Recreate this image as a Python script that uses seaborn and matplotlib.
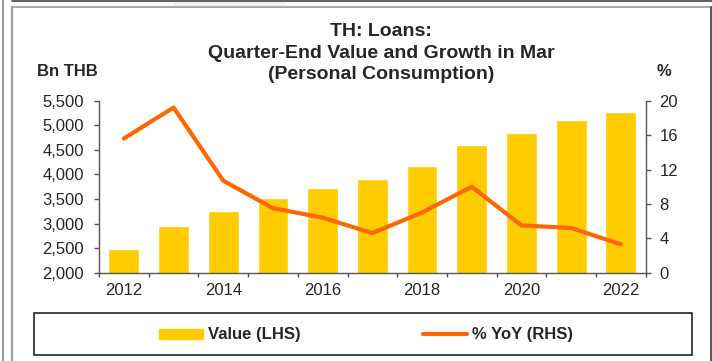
import numpy as np
import pandas as pd
import matplotlib
matplotlib.use("Agg")
import matplotlib.pyplot as plt
from matplotlib.lines import Line2D
from matplotlib.patches import Rectangle, Patch
from matplotlib.ticker import FuncFormatter, FixedLocator
import seaborn as sns

# Loan data (personal consumption), quarter-end in March
years = ["2012", "2013", "2014", "2015", "2016", "2017",
         "2018", "2019", "2020", "2021", "2022"]
value_bn_thb = [2476, 2951, 3263, 3515, 3731, 3902, 4179, 4595, 4851, 5110, 5273]
yoy_pct = [15.6, 19.2, 10.7, 7.5, 6.4, 4.6, 7.0, 10.0, 5.5, 5.2, 3.3]
year_labels_shown = ["2012", "2014", "2016", "2018", "2020", "2022"]

df = pd.DataFrame({"year": years, "value": value_bn_thb, "yoy": yoy_pct})
df["pos"] = np.arange(len(df))

sns.set_style("white")
plt.rcParams["font.family"] = ["Liberation Sans", "DejaVu Sans"]

BAR_COLOR = "#FFCC00"
LINE_COLOR = "#FF6600"
AXIS_COLOR = "#555555"

W, H = 712, 361
fig = plt.figure(figsize=(W / 100, H / 100), dpi=100)
fig.patch.set_facecolor("white")

ax = fig.add_axes([99 / W, 1 - 272.7 / H, (645.7 - 99) / W, (272.7 - 100.7) / H])
sns.barplot(data=df, x="year", y="value", color=BAR_COLOR, saturation=1,
            width=0.62, ax=ax)
ax.set_ylim(2000, 5500)
ax.set_yticks(np.arange(2000, 5501, 500))
ax.yaxis.set_major_formatter(FuncFormatter(lambda v, _: f"{int(v):,}"))
ax.set_xlabel("")
ax.set_ylabel("")

ax2 = ax.twinx()
sns.lineplot(data=df, x="pos", y="yoy", color=LINE_COLOR, lw=3, ax=ax2)
ax2.set_ylim(0, 20)
ax2.set_yticks(np.arange(0, 21, 4))
ax2.set_xlabel("")
ax2.set_ylabel("")

n = len(years)
ax.set_xlim(-0.5, n - 0.5)
ax2.set_xlim(-0.5, n - 0.5)

# Major ticks at category boundaries, labels every other year on minor ticks
ax.xaxis.set_major_locator(FixedLocator(np.arange(-0.5, n, 1.0)))
ax.xaxis.set_major_formatter(FuncFormatter(lambda v, _: ""))
label_pos = [years.index(y) for y in year_labels_shown]
ax.xaxis.set_minor_locator(FixedLocator(label_pos))
ax.set_xticklabels(year_labels_shown, minor=True)
ax.tick_params(axis="x", which="major", direction="out", length=3,
               width=1, color=AXIS_COLOR, bottom=True)
ax.tick_params(axis="x", which="minor", length=0, pad=7.5, labelsize=12,
               bottom=True)
ax.tick_params(axis="y", direction="out", length=3.3, width=1,
               color=AXIS_COLOR, pad=7.5, labelsize=12, left=True)
ax2.tick_params(axis="y", direction="out", length=3.8, width=1,
                color=AXIS_COLOR, pad=6.2, labelsize=12, right=True)

for a in (ax, ax2):
    a.spines["top"].set_visible(False)
    for s in ("left", "right", "bottom"):
        a.spines[s].set_color(AXIS_COLOR)
        a.spines[s].set_linewidth(1)
ax.spines["right"].set_visible(False)
ax2.spines["left"].set_visible(False)
ax2.spines["bottom"].set_visible(False)

# Title and axis unit labels
title_lines = ["TH: Loans:", "Quarter-End Value and Growth in Mar",
               "(Personal Consumption)"]
for line, base in zip(title_lines, [35.7, 57.7, 79.3]):
    fig.text(381 / W, 1 - base / H, line, ha="center", va="baseline",
             fontsize=14, fontweight="bold")
fig.text(67.2 / W, 1 - 75.7 / H, "Bn THB", ha="center", va="baseline",
         fontsize=12, fontweight="bold")
fig.text(664 / W, 1 - 75.7 / H, "%", ha="center", va="baseline",
         fontsize=12, fontweight="bold")

# Legend inside its own framed box
fig.add_artist(Rectangle((34 / W, 1 - 355 / H), (692 - 34) / W, (355 - 313) / H,
                         transform=fig.transFigure, facecolor="white",
                         edgecolor="#222222", linewidth=1.2))
handles = [Patch(facecolor=BAR_COLOR, edgecolor=BAR_COLOR),
           Line2D([0], [0], color=LINE_COLOR, lw=3)]
fig.legend(handles, ["Value (LHS)", "% YoY (RHS)"], loc="center",
           bbox_to_anchor=(366 / W, 1 - 335 / H), ncol=2, frameon=False,
           prop={"size": 12, "weight": "bold"}, handlelength=2.64,
           handleheight=0.56, handletextpad=0.25, columnspacing=7.4)

# Surrounding page frame lines
def fline(x0, y0, x1, y1, color, lw):
    fig.add_artist(Line2D([x0 / W, x1 / W], [1 - y0 / H, 1 - y1 / H],
                          transform=fig.transFigure, color=color, lw=lw))

fig.add_artist(Rectangle((173 / W, 1 - 6 / H), (285 - 173) / W, 4 / H,
                         transform=fig.transFigure, facecolor="#f1f1fa",
                         edgecolor="none"))
fline(3, 0, 3, H, "#888888", 1.2)
fline(12, 7, 12, H, "#a0a0a0", 1.6)
fline(12, 1, W, 1, "#444444", 1.2)
fline(12, 7, 711, 7, "#9a9a9a", 1.2)
fline(711, 7, 711, H, "#555555", 1.4)

fig.savefig("out.png", dpi=100, facecolor="white")
